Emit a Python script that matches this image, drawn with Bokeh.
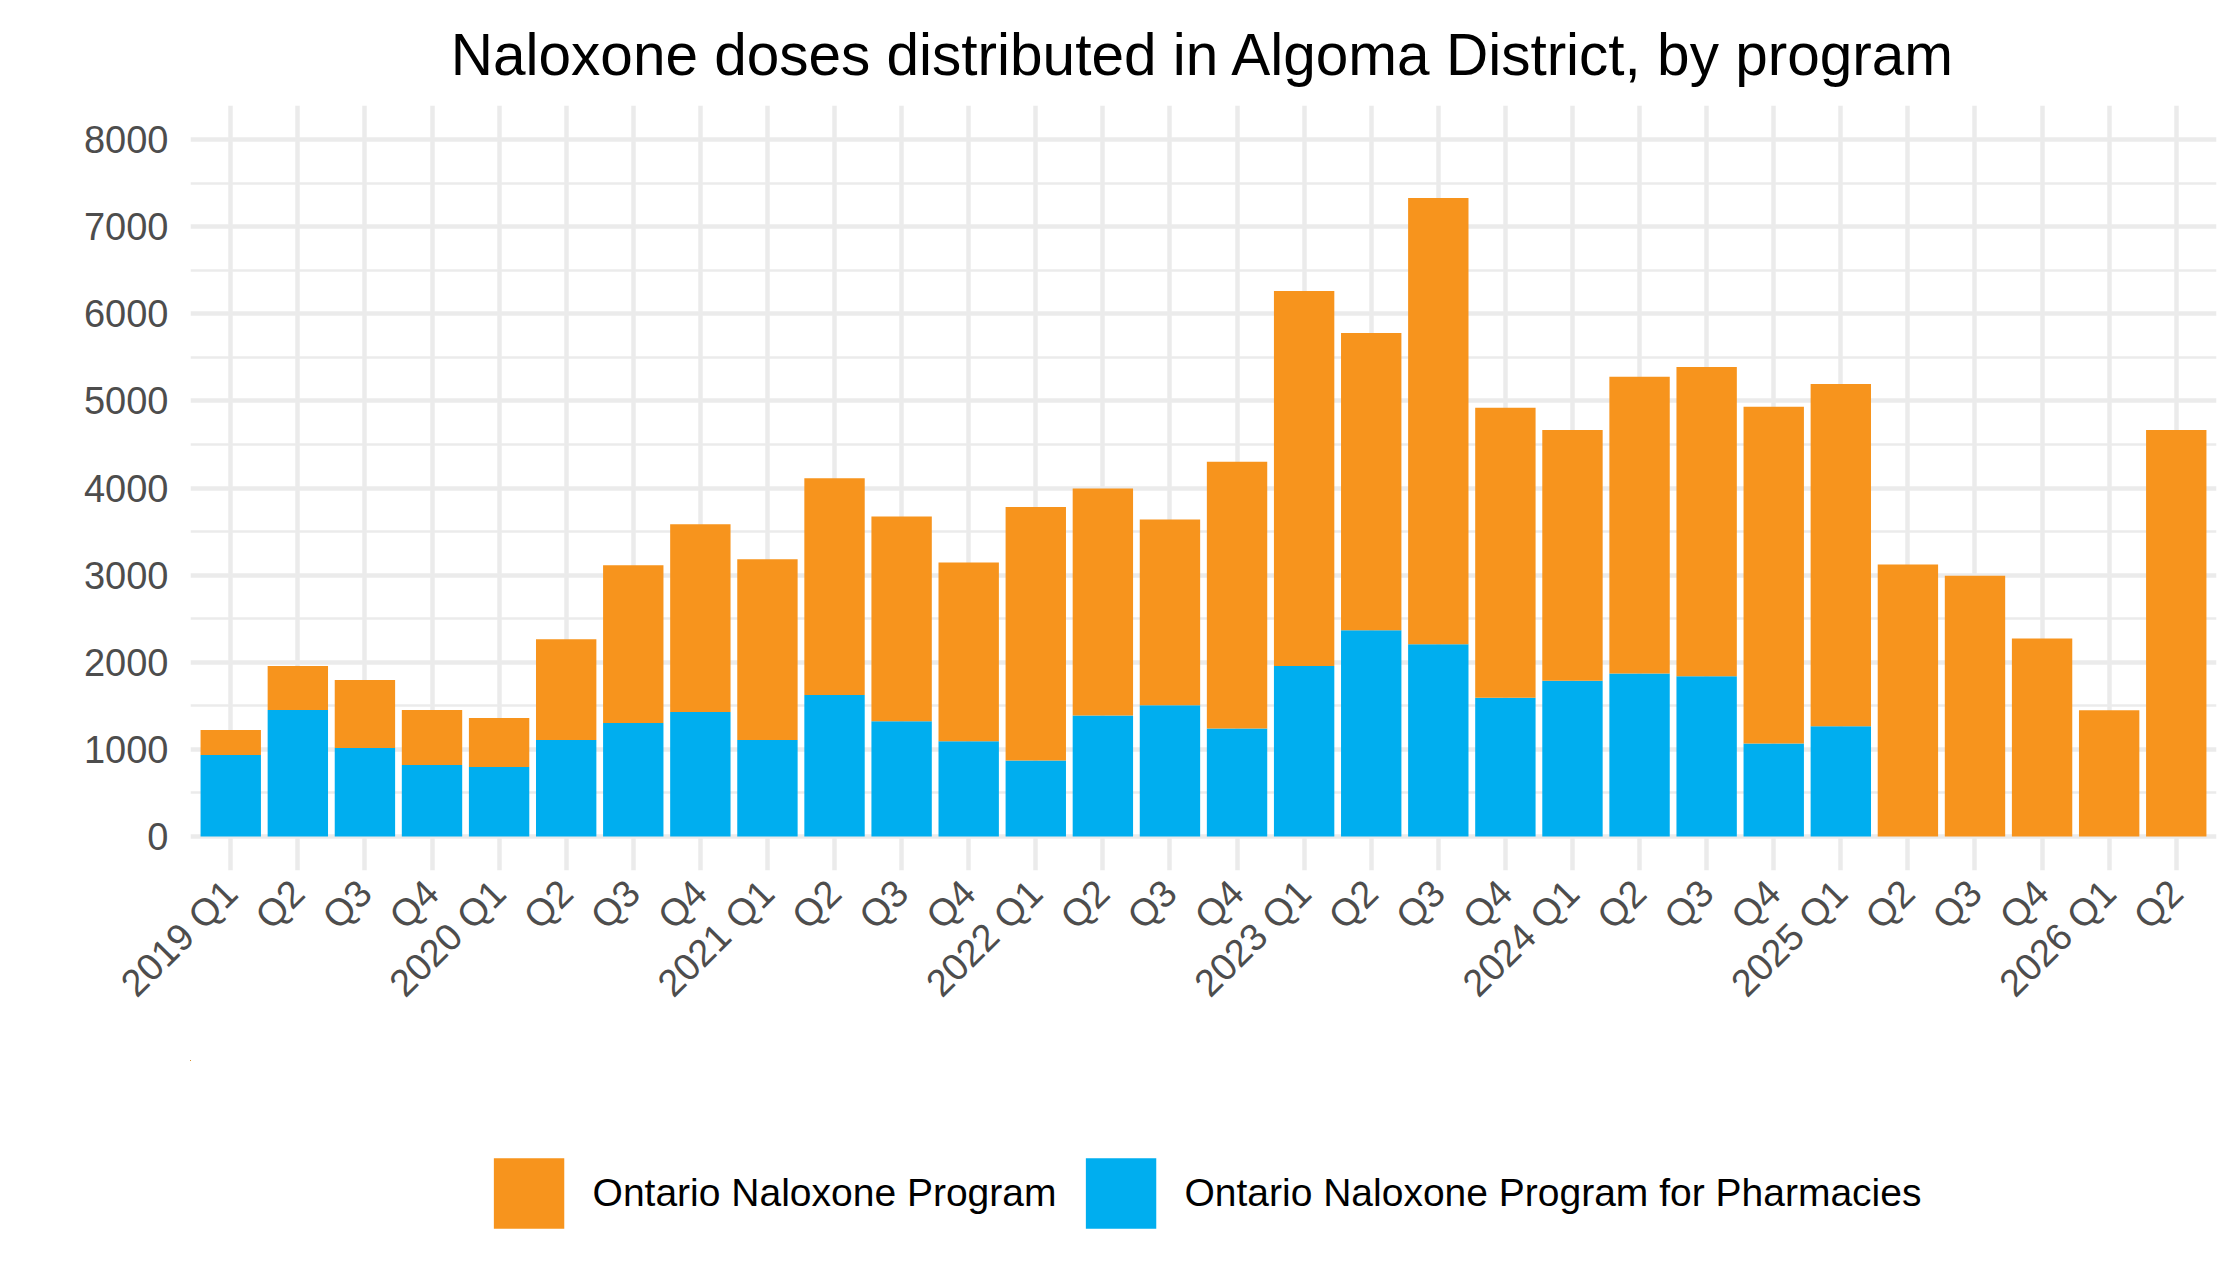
import math
from bokeh.plotting import figure
from bokeh.layouts import column
from bokeh.models import (ColumnDataSource, FixedTicker, Legend, LegendItem, Range1d)
from bokeh.embed import file_html
from bokeh.resources import INLINE

# ---- data ----
quarters = ["2019 Q1", "Q2", "Q3", "Q4",
            "2020 Q1", "Q2", "Q3", "Q4",
            "2021 Q1", "Q2", "Q3", "Q4",
            "2022 Q1", "Q2", "Q3", "Q4",
            "2023 Q1", "Q2", "Q3", "Q4",
            "2024 Q1", "Q2", "Q3", "Q4",
            "2025 Q1", "Q2", "Q3", "Q4",
            "2026 Q1", "Q2"]

pharmacies = [936, 1452, 1016, 821,
              798, 1108, 1303, 1429,
              1108, 1625, 1323, 1094,
              872, 1389, 1506, 1239,
              1956, 2367, 2206, 1594,
              1789, 1872, 1839, 1067,
              1267, 0, 0, 0,
              0, 0]

onp = [286, 504, 779, 631,
       562, 1157, 1810, 2154,
       2074, 2486, 2350, 2050,
       2911, 2605, 2133, 3061,
       4305, 3411, 5122, 3328,
       2878, 3406, 3550, 3866,
       3927, 3122, 2994, 2272,
       1450, 4667]

series_names = ["Ontario Naloxone Program", "Ontario Naloxone Program for Pharmacies"]
y_ticks = [0, 1000, 2000, 3000, 4000, 5000, 6000, 7000, 8000]
y_minor = [500, 1500, 2500, 3500, 4500, 5500, 6500, 7500]

ORANGE = "#F7941D"
BLUE = "#00AEEF"
GRID = "#EBEBEB"
FONT = "Liberation Sans"
Y_LO, Y_HI = -390, 8390

xs = list(range(1, len(quarters) + 1))
total = [a + b for a, b in zip(pharmacies, onp)]
src = ColumnDataSource(dict(x=xs, pharm=pharmacies, onp=onp, total=total))

# ---------------- main chart ----------------
p = figure(width=2232, height=1060,
           x_range=Range1d(0.4, len(quarters) + 0.6),
           y_range=Range1d(Y_LO, Y_HI),
           output_backend="svg", toolbar_location=None,
           min_border_left=190, min_border_right=16,
           min_border_top=105, min_border_bottom=190)

p.outline_line_color = None
p.background_fill_color = "white"

p.title.text = "Naloxone doses distributed in Algoma District, by program"
p.title.align = "center"
p.title.text_font = FONT
p.title.text_font_size = "58.5px"
p.title.text_font_style = "normal"
p.title.text_color = "black"
p.title.standoff = 37

r_ph = p.vbar(x="x", top="pharm", bottom=0, width=0.9, source=src,
              fill_color=BLUE, line_color=None)
r_onp = p.vbar(x="x", top="total", bottom="pharm", width=0.9, source=src,
               fill_color=ORANGE, line_color=None)

p.xaxis.ticker = FixedTicker(ticks=xs)
p.xaxis.major_label_overrides = {x: q for x, q in zip(xs, quarters)}
p.xaxis.major_label_orientation = math.pi / 4
p.yaxis.ticker = FixedTicker(ticks=y_ticks, minor_ticks=y_minor)

for ax in (p.xaxis, p.yaxis):
    ax.axis_line_color = None
    ax.major_tick_line_color = None
    ax.minor_tick_line_color = None
    ax.major_label_text_font = FONT
    ax.major_label_text_font_size = "38px"
    ax.major_label_text_color = "#4D4D4D"
p.xaxis.major_label_standoff = 10
p.yaxis.major_label_standoff = 16

p.xgrid.grid_line_color = GRID
p.xgrid.grid_line_width = 4.5
p.ygrid.grid_line_color = GRID
p.ygrid.grid_line_width = 4.5
p.ygrid.minor_grid_line_color = GRID
p.ygrid.minor_grid_line_width = 2.5

# ---------------- legend strip (same series, kept out of view) ----------------
lg = figure(width=2232, height=215, output_backend="svg", toolbar_location=None,
            x_range=Range1d(100, 101),
            y_range=Range1d(-1000, -900),
            x_axis_location=None, y_axis_location=None,
            min_border_left=190, min_border_right=16,
            min_border_top=0, min_border_bottom=0)
lg.outline_line_color = None
lg.xgrid.visible = False
lg.ygrid.visible = False
k_ph = lg.vbar(x="x", top="pharm", bottom=0, width=0.9, source=src,
               fill_color=BLUE, line_color=None)
k_onp = lg.vbar(x="x", top="total", bottom="pharm", width=0.9, source=src,
                fill_color=ORANGE, line_color=None)

legend = Legend(items=[LegendItem(label=series_names[0], renderers=[k_onp]),
                       LegendItem(label=series_names[1], renderers=[k_ph])],
                orientation="horizontal", location="bottom_center",
                glyph_width=88, glyph_height=88,
                label_standoff=20, spacing=20,
                label_text_font=FONT, label_text_font_size="39px",
                label_text_color="black",
                border_line_color=None, background_fill_alpha=0,
                padding=0, margin=38)
lg.add_layout(legend, "center")

layout = column(p, lg, spacing=0)
open("out.html", "w").write(file_html(layout, INLINE))
